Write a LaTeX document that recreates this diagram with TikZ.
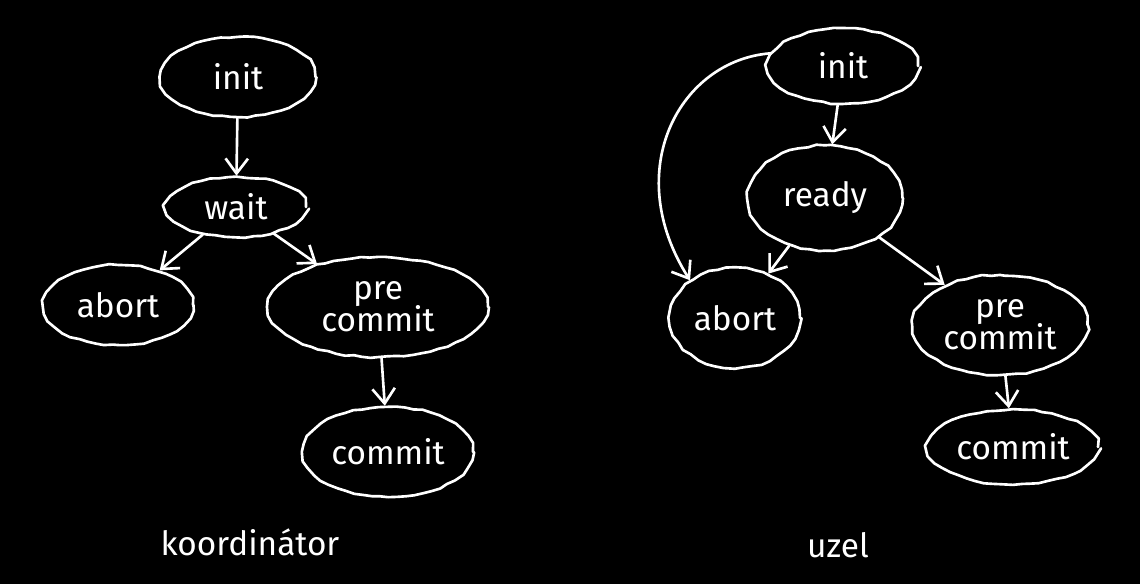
\documentclass[tikz,border=0pt]{standalone}
\usepackage{fontspec}
\setmainfont{Fira Sans}
\usetikzlibrary{shapes.geometric,arrows.meta,decorations.pathmorphing}
\begin{document}
\begin{tikzpicture}[x=0.02cm,y=-0.02cm,
  chalk/.style={draw=white, line width=1.5pt, line cap=round, line join=round},
  state/.style={chalk, ellipse, inner sep=0pt, text=white,
    font=\fontsize{19}{20}\selectfont,
    decorate, decoration={random steps, segment length=5pt, amplitude=0.5pt}},
  arr/.style={chalk, -{Straight Barb[length=3mm,width=4.5mm,line width=1.5pt]}},
  caption/.style={text=white, font=\fontsize{19}{20}\selectfont}]
  \fill[black] (0,0) rectangle (1140,584);
  \useasboundingbox (0,0) rectangle (1140,584);

  % coordinator
  \node[state, minimum width=3.1cm, minimum height=1.6cm] (li) at (238,77) {init};
  \node[state, minimum width=2.8cm, minimum height=1.2cm] (lw) at (236,207) {wait};
  \node[state, minimum width=3.0cm, minimum height=1.6cm] (la) at (118,305) {abort};
  \node[state, minimum width=4.4cm, minimum height=2.0cm, align=center] (lp) at (378,307) {pre\\[-2pt]commit};
  \node[state, minimum width=3.4cm, minimum height=1.8cm] (lc) at (388,452) {commit};
  \node[caption] (lt) at (250,542) {koordinátor};

  \draw[arr] (li) -- (lw);
  \draw[arr] (lw) -- (la);
  \draw[arr] (lw) -- (lp);
  \draw[arr] (lp) -- (lc);

  % participant
  \node[state, minimum width=3.0cm, minimum height=1.5cm] (ri) at (843,66) {init};
  \node[state, minimum width=3.1cm, minimum height=2.1cm] (rr) at (825,198) {ready};
  \node[state, minimum width=2.6cm, minimum height=2.0cm] (ra) at (735,318) {abort};
  \node[state, minimum width=3.5cm, minimum height=2.0cm, align=center] (rp) at (1000,325) {pre\\[-2pt]commit};
  \node[state, minimum width=3.4cm, minimum height=1.5cm] (rc) at (1013,447) {commit};
  \node[caption] (rt) at (838,545) {uzel};

  \draw[arr] (ri) -- (rr);
  \draw[arr] (rr) -- (ra);
  \draw[arr] (rr) -- (rp);
  \draw[arr] (rp) -- (rc);
  \draw[arr] (ri.170) .. controls (680,60) and (620,170) .. (ra.140);
\end{tikzpicture}
\end{document}
